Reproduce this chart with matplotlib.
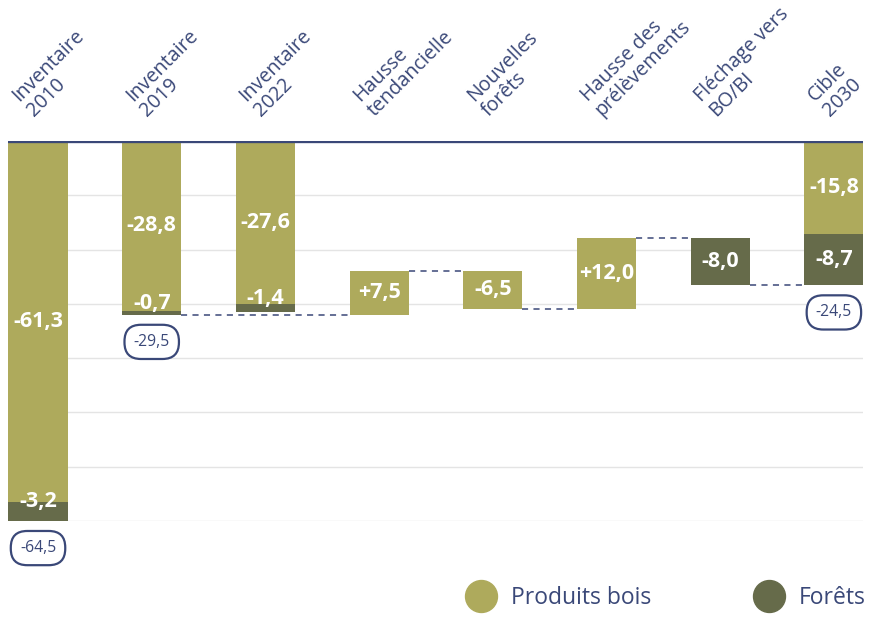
import numpy as np
import matplotlib.pyplot as plt
from matplotlib.lines import Line2D

plt.rcParams['font.family'] = ['Open Sans', 'DejaVu Sans']

# Catégories de l'axe
categories = ['Inventaire\n2010', 'Inventaire\n2019', 'Inventaire\n2022',
              'Hausse\ntendancielle', 'Nouvelles\nforêts',
              'Hausse des\nprélèvements', 'Fléchage vers\nBO/BI', 'Cible\n2030']

# Barres d'inventaire (empilées depuis 0)
inv_pos = [0, 1, 2, 7]
inv_produits = [-61.3, -28.8, -27.6, -15.8]
inv_forets = [-3.2, -0.7, -1.4, -8.7]
inv_totaux = [-64.5, -29.5, None, -24.5]

# Étapes du passage 2019 -> 2030
step_pos = [3, 4, 5, 6]
step_vals = [7.5, -6.5, 12.0, -8.0]
step_serie = ['produits', 'produits', 'produits', 'forets']
depart = -29.5

olive = '#aeaa5c'
kaki = '#666b4a'
marine = '#3a4878'
grille = '#e4e4e4'
couleurs = {'produits': olive, 'forets': kaki}

W = 0.52
ymin = -64.5

fig = plt.figure(figsize=(8.74, 6.19), dpi=100)
ax = fig.add_axes([8 / 874, 1 - 521 / 619, 855 / 874, 380 / 619])
ax.set_xlim(-0.264, 7.256)
ax.set_ylim(ymin, 0)
ax.axis('off')

for g in np.linspace(0, ymin, 8)[1:]:
    ax.axhline(g, color=grille, lw=1, zorder=0)
ax.axhline(0, color=marine, lw=2.4, zorder=4)


def fmt(v, signe=False):
    s = f'{v:+.1f}' if signe else f'{v:.1f}'
    return s.replace('.', ',')


def etiquette(x, bas, haut, v, signe=False):
    centre = (bas + haut) / 2
    dy = 7 if abs(v) < 5 else 0
    ax.annotate(fmt(v, signe), (x, centre), xytext=(0, dy),
                textcoords='offset points', ha='center', va='center',
                color='white', fontsize=15.5, fontweight='bold', zorder=5)


def pastille(x, total):
    ax.annotate(fmt(total), (x, total), xytext=(0, -19.5),
                textcoords='offset points', ha='center', va='center',
                color=marine, fontsize=11.3, annotation_clip=False,
                bbox=dict(boxstyle='round,pad=0.58,rounding_size=1.05',
                          fc='white', ec=marine, lw=1.6))


# Inventaires
for x, p, f, t in zip(inv_pos, inv_produits, inv_forets, inv_totaux):
    ax.bar(x, p, width=W, color=olive, zorder=2)
    ax.bar(x, f, bottom=p, width=W, color=kaki, zorder=2)
    etiquette(x, 0, p, p)
    etiquette(x, p, p + f, f)
    if t is not None:
        pastille(x, t)

# Étapes en cascade
niveau = depart
niveaux = [depart]
for x, v, s in zip(step_pos, step_vals, step_serie):
    ax.bar(x, v, bottom=niveau, width=W, color=couleurs[s], zorder=2)
    etiquette(x, niveau, niveau + v, v, signe=True)
    niveau += v
    niveaux.append(niveau)

# Lignes de liaison pointillées
liaisons_x = [1] + step_pos + [7]
for i in range(len(niveaux)):
    x0 = liaisons_x[i] + W / 2
    x1 = liaisons_x[i + 1] - W / 2
    ax.plot([x0, x1], [niveaux[i], niveaux[i]], color=marine, lw=1.1,
            dashes=(4, 3.5), zorder=1)

# Libellés inclinés au-dessus de l'axe
for i, c in enumerate(categories):
    ax.annotate(c, (i, 0), xytext=(-0.5, 14.8), textcoords='offset points',
                rotation=45, rotation_mode='anchor', ha='left', va='bottom',
                multialignment='left', color=marine, fontsize=14.2,
                linespacing=1.05, annotation_clip=False)

poignees = [Line2D([], [], ls='', marker='o', ms=23, color=olive),
            Line2D([], [], ls='', marker='o', ms=23, color=kaki)]
fig.legend(poignees, ['Produits bois', 'Forêts'], ncol=2, frameon=False,
           loc='center right', bbox_to_anchor=(866 / 874, 1 - 598 / 619),
           fontsize=16.5, labelcolor=marine, handlelength=1.2,
           handletextpad=0.7, columnspacing=4.55, borderpad=0,
           borderaxespad=0)

fig.savefig('out.png', dpi=100)
